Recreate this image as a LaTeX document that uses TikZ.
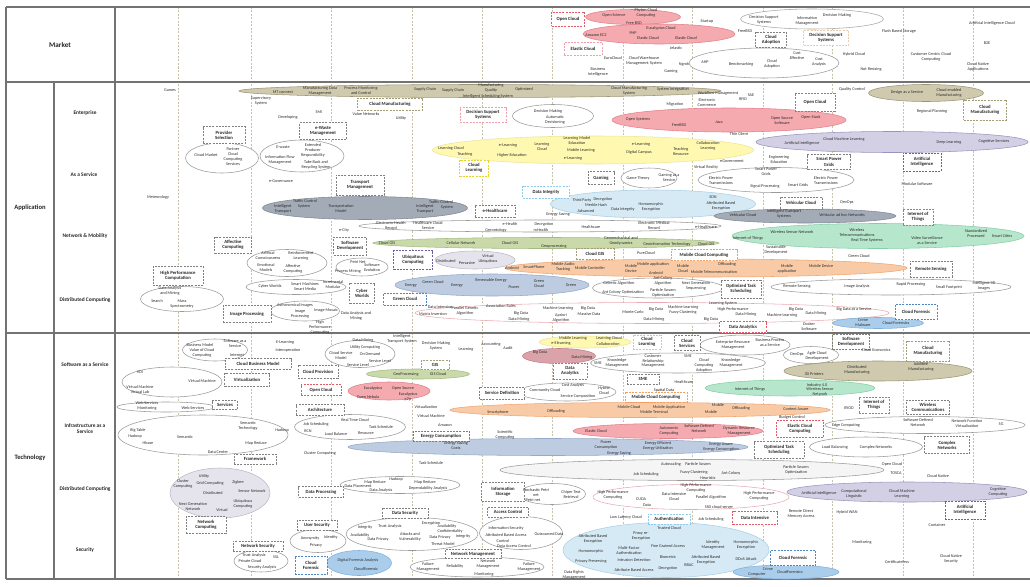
\documentclass[tikz,border=0pt]{standalone}
\usepackage{fontspec}
\setmainfont{Carlito}
\usetikzlibrary{shapes.geometric}
% fills and outlines of the topic clusters
\definecolor{olvF}{HTML}{CFC9AE}\definecolor{olvD}{HTML}{9C9678}
\definecolor{redF}{HTML}{F5AAB0}\definecolor{redD}{HTML}{E2808C}
\definecolor{yelF}{HTML}{FFF8B0}\definecolor{yelD}{HTML}{EDE59A}
\definecolor{purF}{HTML}{D3D0E6}\definecolor{purD}{HTML}{9A94BE}
\definecolor{trF}{HTML}{A3ABB6}\definecolor{trD}{HTML}{7F8894}
\definecolor{lbF}{HTML}{D6EAF5}\definecolor{lbD}{HTML}{A9D0E6}
\definecolor{grnF}{HTML}{B6E6CB}\definecolor{grnD}{HTML}{86CFA6}
\definecolor{oraF}{HTML}{F8CBA6}\definecolor{oraD}{HTML}{EFA676}
\definecolor{engF}{HTML}{BDCCE0}\definecolor{engD}{HTML}{95A9C8}
\definecolor{forF}{HTML}{AACDEB}\definecolor{forD}{HTML}{7FB1DC}
\definecolor{pinkD}{HTML}{E9A9B2}
\definecolor{gryF}{HTML}{E5E3EB}\definecolor{gryD}{HTML}{BDB9C7}
\definecolor{whtD}{HTML}{9A9A9A}
\definecolor{gisF}{HTML}{C9D9A9}\definecolor{gisD}{HTML}{A4BB85}
\definecolor{roseF}{HTML}{D9A3A9}\definecolor{roseD}{HTML}{C08088}
% dashed topic boxes
\definecolor{bGry}{HTML}{808080}\definecolor{bRed}{HTML}{E05A6A}
\definecolor{bPnk}{HTML}{F0A0AA}\definecolor{bOlv}{HTML}{A39C74}
\definecolor{bYel}{HTML}{E5D52A}\definecolor{bBlu}{HTML}{4F86C6}
\definecolor{bPur}{HTML}{6F5FA0}\definecolor{bGrn}{HTML}{3DB56E}
\definecolor{bOra}{HTML}{EFA060}\definecolor{bLb}{HTML}{8FCBEA}
\definecolor{bTan}{HTML}{E8CDA8}\definecolor{grid}{HTML}{C8C2A8}
\newcounter{tc}
\newcommand\tx[3]{\stepcounter{tc}\node[txt] (t\arabic{tc}) at (#1,#2) {#3};}
\newcommand\bx[7]{\node[box,draw=#1,minimum width=#5pt,minimum height=#6pt] (#2) at (#3,#4) {#7};}
\newcommand\ov[5]{\path[#1] (#2,#3) ellipse [x radius={#4*0.5pt}, y radius={#5*0.5pt}];}
\begin{document}
\begin{tikzpicture}[x=1pt,y=-1pt,
  txt/.style={font=\fontsize{4.2}{4.9}\selectfont, align=center, inner sep=0pt, text=black!82},
  box/.style={dash pattern=on 2pt off 1.2pt, line width=0.65pt, fill=white,
    font=\fontsize{4.7}{5.2}\selectfont\bfseries, align=center, inner sep=0.6pt, text=black!85},
  hd/.style={font=\fontsize{7.2}{8}\selectfont\bfseries, text=black!85},
  cat/.style={font=\fontsize{6.6}{7.4}\selectfont\bfseries, text=black!85},
  sub/.style={font=\fontsize{5.4}{6.2}\selectfont\bfseries, align=center, text=black!85},
  ew/.style={fill=white, draw=whtD, line width=0.55pt},
  eolv/.style={fill=olvF, draw=olvD, line width=0.55pt},
  ered/.style={fill=redF, draw=redD, line width=0.55pt},
  eyel/.style={fill=yelF, draw=yelD, line width=0.55pt},
  epur/.style={fill=purF, draw=purD, line width=0.55pt},
  etr/.style={fill=trF, draw=trD, line width=0.55pt},
  elb/.style={fill=lbF, draw=lbD, line width=0.55pt},
  egrn/.style={fill=grnF, draw=grnD, line width=0.55pt},
  eora/.style={fill=oraF, draw=oraD, line width=0.55pt},
  eeng/.style={fill=engF, draw=engD, line width=0.55pt},
  efor/.style={fill=forF, draw=forD, line width=0.55pt},
  epnk/.style={fill=white, draw=pinkD, line width=0.55pt},
  egry/.style={fill=gryF, draw=gryD, line width=0.55pt},
  egis/.style={fill=gisF, draw=gisD, line width=0.55pt},
  erose/.style={fill=roseF, draw=roseD, line width=0.55pt},
  rule/.style={draw=black!55, line width=1.1pt},
  year/.style={draw=grid, line width=0.5pt, dash pattern=on 2pt off 1.5pt}]
\useasboundingbox (0,0) rectangle (1030,586);
\fill[white] (0,0) rectangle (1030,586);

% ---- time columns ----
\foreach \c in {178,251,331,412,482,552,623,692,763,832,903,973}
  \draw[year] (\c,7) -- (\c,579);

% ---- table frame ----
\draw[rule] (6,7) -- (1030,7);
\draw[rule] (6,82) -- (1030,82);
\draw[rule] (6,333) -- (1030,333);
\draw[rule] (6,579) -- (1030,579);
\draw[rule] (6,7) -- (6,579);
\draw[rule] (115,7) -- (115,579);
\draw[rule] (54,82) -- (54,579);

\node[hd] (market) at (60,45) {Market};
\node[cat] (application) at (30,208) {Application};
\node[cat] (technology) at (30,458) {Technology};
\node[sub] (s1) at (85,113) {Enterprise};
\node[sub] (s2) at (84,175) {As a Service};
\node[sub] (s3) at (85,236) {Network \& Mobility};
\node[sub] (s4) at (85,300) {Distributed Computing};
\node[sub] (s5) at (85,365) {Software as a Service};
\node[sub] (s6) at (85,429) {Infrastructure as a\\Service};
\node[sub] (s7) at (85,489) {Distributed Computing};
\node[sub] (s8) at (85,550) {Security};

% ---- clusters ----
\ov{ered}{633}{17}{95}{15}
\ov{ered}{659}{34}{152}{20}
\ov{ew}{764}{63}{150}{30}
\ov{ew,draw=black!35}{812}{19}{143}{20}
\ov{eolv}{480}{91}{482}{13}
\ov{ew}{553}{116}{81}{23}
\ov{ered}{729}{120}{234}{24}
\ov{eolv}{926}{93}{115}{17}
\ov{ew}{222}{158}{73}{30}
\ov{ew}{302}{156}{84}{32}
\ov{eyel}{593}{150}{321}{28}
\ov{epur}{892}{142}{272}{21}
\ov{ew}{649}{178}{56}{20}
\ov{ew}{776}{180}{156}{25}
\ov{etr}{365}{208}{205}{23}
\ov{elb}{653}{204}{205}{28}
\ov{etr}{805}{216}{182}{14}
\ov{ew}{540}{226}{362}{12}
\ov{egrn}{878}{236}{292}{25}
\ov{egis}{546}{243}{346}{11}
\ov{ew}{287}{263}{80}{27}
\ov{ew}{362}{267}{52}{18}
\ov{egry}{475}{260}{80}{18}
\ov{eora}{706}{268}{402}{18}
\ov{ew}{296}{287}{100}{15}
\ov{eeng}{492}{285}{194}{22}
\ov{ew}{658}{288}{131}{20}
\ov{ew}{891}{287}{240}{16}
\ov{ew}{182}{299}{83}{25}
\ov{ew}{305}{311}{69}{20}
\ov{epnk}{652}{313}{474}{21}
\ov{efor}{878}{323}{91}{11}
\ov{ew}{215}{350}{65}{22}
\ov{ew}{360}{354}{70}{27}
\ov{egis}{418}{374}{103}{10}
\ov{eyel}{585}{342}{92}{12}
\ov{ew}{745}{345}{90}{20}
\ov{erose}{559}{356}{73}{15}
\ov{ew}{678}{363}{175}{20}
\ov{ew}{811}{355}{55}{17}
\ov{eolv}{878}{371}{188}{20}
\ov{ew}{172}{382}{100}{30}
\ov{ered}{389}{391}{82}{18}
\ov{ew}{567}{392}{98}{18}
\ov{egrn}{790}{388}{170}{16}
\ov{ew}{166}{407}{98}{10}
\ov{ew}{203}{435}{170}{40}
\ov{ew}{350}{427}{111}{25}
\ov{eeng}{548}{447}{400}{17}
\ov{eora}{640}{410}{380}{15}
\ov{ered}{668}{431}{190}{15}
\ov{ew}{925}{425}{200}{17}
\ov{ew}{866}{447}{113}{20}
\ov{ew,fill=black!4}{692}{470}{384}{21}
\ov{egry}{220}{493}{100}{50}
\ov{ew}{400}{485}{120}{17}
\ov{ew}{552}{494}{67}{21}
\ov{epnk}{691}{497}{196}{25}
\ov{epur}{907}{492}{240}{20}
\ov{ew}{261}{561}{54}{22}
\ov{ew}{318}{541}{56}{23}
\ov{efor}{359}{563}{65}{25}
\ov{ew}{412}{534}{132}{33}
\ov{ew}{477}{567}{134}{20}
\ov{ew}{521}{533}{83}{33}
\ov{elb}{666}{550}{206}{55}
\ov{efor}{786}{572}{106}{14}

% ---- topic boxes ----
\bx{bRed}{b1}{568}{19}{33}{14}{Open Cloud}
\bx{bPnk}{b2}{583}{49}{38}{13}{Elastic Cloud}
\bx{bGry}{b3}{771}{40}{31}{15}{Cloud\\Adoption}
\bx{bTan}{b4}{826}{38}{45}{15}{Decision Support\\Systems}
\bx{bOlv}{b5}{390}{104}{65}{12}{Cloud Manufacturing}
\bx{bGry}{b6}{323}{131}{47}{17}{e-Waste\\Management}
\bx{bGry}{b7}{224}{135}{42}{17}{Provider\\Selection}
\bx{bPnk}{b8}{483}{115}{46}{15}{Decision Support\\Systems}
\bx{bRed}{b9}{815}{102}{40}{18}{Open Cloud}
\bx{bOlv}{b10}{985}{110}{43}{20}{Cloud\\Manufacturing}
\bx{bGry}{b11}{360}{185}{48}{20}{Transport\\Management}
\bx{bYel}{b12}{474}{168}{29}{16}{Cloud\\Learning}
\bx{bGry}{b13}{601}{178}{26}{13}{Gaming}
\bx{bGry}{b14}{829}{162}{43}{15}{Smart Power\\Grids}
\bx{bPur}{b15}{922}{162}{38}{18}{Artificial\\Intelligence}
\bx{bLb}{b16}{546}{192}{47}{12}{Data Integrity}
\bx{bGry}{b17}{495}{211}{40}{12}{e-Healthcare}
\bx{bGry}{b18}{801}{203}{42}{12}{Vehicular Cloud}
\bx{bGrn}{b19}{918}{217}{30}{16}{Internet of\\Things}
\bx{bGry}{b20}{350}{246}{33}{18}{Software\\Development}
\bx{bGry}{b21}{233}{245}{37}{16}{Affective\\Computing}
\bx{bPur}{b22}{413}{260}{39}{19}{Ubiquitous\\Computing}
\bx{bOlv}{b23}{595}{254}{38}{11}{Cloud GIS}
\bx{bOra}{b24}{704}{255}{66}{11}{Mobile Cloud Computing}
\bx{bGry}{b25}{931}{269}{42}{16}{Remote Sensing}
\bx{bGry}{b26}{362}{293}{25}{20}{Cyber\\Worlds}
\bx{bBlu}{b27}{405}{299}{43}{12}{Green Cloud}
\bx{bGry}{b28}{741}{289}{40}{18}{Optimized Task\\Scheduling}
\bx{bGry}{b29}{178}{276}{50}{19}{High Performance\\Computation}
\bx{bGry}{b30}{247}{314}{48}{17}{Image Processing}
\bx{bRed}{b31}{743}{327}{47}{11}{Data Analytics}
\bx{bBlu}{b32}{916}{312}{42}{15}{Cloud Forensic}
\bx{bGry}{b33}{258}{364}{66}{11}{Cloud Business Model}
\bx{bGry}{b34}{318}{372}{40}{13}{Cloud Provision}
\bx{bOlv}{b35}{435}{365}{28}{9}{GIS}
\bx{bYel}{b36}{647}{342}{28}{14}{Cloud\\Learning}
\bx{bGry}{b37}{687}{343}{26}{15}{Cloud\\Services}
\bx{bRed}{b38}{570}{371}{34}{16}{Data\\Analytics}
\bx{bGry}{b39}{643}{379}{32}{10}{SME}
\bx{bGry}{b40}{851}{342}{37}{15}{Software\\Development}
\bx{bOlv}{b41}{928}{351}{43}{20}{Cloud\\Manufacturing}
\bx{bGry}{b42}{247}{380}{45}{13}{Virtualization}
\bx{bRed}{b43}{321}{390}{40}{11}{Open Cloud}
\bx{bGry}{b44}{502}{393}{45}{12}{Service Definition}
\bx{bOra}{b45}{656}{397}{62}{10}{Mobile Cloud Computing}
\bx{bGry}{b46}{225}{405}{25}{9}{Services}
\bx{bGry}{b47}{255}{459}{42}{10}{Framework}
\bx{bGry}{b48}{320}{410}{48}{11}{Architecture}
\bx{bBlu}{b49}{441}{436}{56}{10}{Energy Consumption}
\bx{bGrn}{b50}{874}{405}{30}{16}{Internet of\\Things}
\bx{bGry}{b51}{928}{407}{43}{14}{Wireless\\Communications}
\bx{bRed}{b52}{800}{429}{47}{17}{Elastic Cloud\\Computing}
\bx{bGry}{b53}{779}{450}{50}{17}{Optimized Task\\Scheduling}
\bx{bGry}{b54}{947}{445}{45}{17}{Complex\\Networks}
\bx{bGry}{b55}{206}{525}{40}{17}{Network\\Computing}
\bx{bGry}{b56}{321}{492}{45}{11}{Data Processing}
\bx{bGry}{b57}{503}{492}{43}{19}{Information\\Storage}
\bx{bPur}{b58}{965}{510}{40}{18}{Artificial\\Intelligence}
\bx{bGry}{b59}{258}{546}{50}{10}{Network Security}
\bx{bGry}{b60}{317}{525}{40}{10}{User Security}
\bx{bBlu}{b61}{311}{565}{32}{18}{Cloud\\Forensic}
\bx{bGry}{b62}{405}{513}{46}{10}{Data Security}
\bx{bGry}{b63}{473}{554}{56}{9}{Network Management}
\bx{bGry}{b64}{508}{512}{41}{10}{Access Control}
\bx{bLb}{b65}{669}{519}{42}{10}{Authentication}
\bx{bRed}{b66}{755}{518}{45}{13}{Data Intensive}
\bx{bBlu}{b67}{793}{558}{45}{15}{Cloud Forensic}

% ---- Market ----
\tx{614}{15}{Open Science}
\tx{646}{13}{Phyton Cloud\\Computing}
\tx{634}{23}{Free BSD}
\tx{596}{35}{Amazon EC2}
\tx{633}{33}{PHP}
\tx{661}{28}{Eucalyptus Cloud}
\tx{648}{38}{Elastic Cloud}
\tx{686}{38}{Elastic Cloud}
\tx{707}{21}{Startup}
\tx{745}{31}{FreeBSD}
\tx{676}{48}{Jelastic}
\tx{613}{58}{EuroCloud}
\tx{644}{61}{Cloud Warehouse\\Management System}
\tx{598}{72}{Business\\Intelligence}
\tx{671}{71}{Gaming}
\tx{684}{64}{Ngrok}
\tx{705}{62}{AHP}
\tx{741}{64}{Benchmarking}
\tx{772}{64}{Cloud\\Adoption}
\tx{797}{56}{Cost\\Effective}
\tx{819}{62}{Cost\\Analysis}
\tx{764}{20}{Decision Support\\Systems}
\tx{807}{21}{Information\\Management}
\tx{837}{15}{Decision Making}
\tx{899}{31}{Flash Based Storage}
\tx{854}{54}{Hybrid Cloud}
\tx{871}{69}{Not Resizing}
\tx{931}{57}{Customer Centric Cloud\\Computing}
\tx{992}{23}{Artificial Intelligence Cloud}
\tx{987}{43}{B2E}
\tx{978}{67}{Cloud Native\\Applications}

% ---- Enterprise ----
\tx{170}{90}{Games}
\tx{283}{92}{MT connect}
\tx{320}{91}{Manufacturing Data\\Management}
\tx{361}{91}{Process Monitoring\\and Control}
\tx{425}{89}{Supply Chain}
\tx{453}{90}{Supply Chain}
\tx{491}{88}{Manufacturing\\Quality}
\tx{488}{96}{Intelligent Scheduling System}
\tx{524}{89}{Optimized}
\tx{629}{91}{Cloud Manufacturing\\System}
\tx{673}{89}{System Integration}
\tx{718}{93}{Workflow Management}
\tx{261}{101}{Supervisory\\System}
\tx{288}{117}{Developing}
\tx{319}{112}{SMI}
\tx{366}{114}{Value Networks}
\tx{401}{118}{Utility}
\tx{548}{111}{Decision Making}
\tx{555}{120}{Automatic\\Decisioning}
\tx{675}{104}{Migration}
\tx{707}{103}{Electronic\\Commerce}
\tx{743}{99}{RFID}
\tx{751}{95}{SAE}
\tx{638}{119}{Open Systems}
\tx{679}{125}{FreeBSD}
\tx{719}{122}{Java}
\tx{782}{121}{Open Source\\Software}
\tx{811}{117}{Open Stack}
\tx{852}{89}{Quality Control}
\tx{907}{92}{Design as a Service}
\tx{949}{93}{Cloud enabled\\Manufacturing}
\tx{932}{111}{Regional Planning}

% ---- As a Service ----
\tx{206}{155}{Cloud Market}
\tx{233}{157}{Partner\\Cloud\\Computing\\Services}
\tx{283}{147}{E-waste}
\tx{313}{150}{Extended\\Producer\\Responsibility}
\tx{280}{160}{Information Flow\\Management}
\tx{316}{165}{Take Back and\\Recycling System}
\tx{281}{181}{e-Governance}
\tx{158}{197}{Meteorology}
\tx{451}{148}{Learning Cloud}
\tx{465}{154}{Teaching}
\tx{508}{145}{e-Learning}
\tx{512}{155}{Higher Education}
\tx{542}{147}{Learning\\Cloud}
\tx{577}{141}{Learning Model\\Education}
\tx{581}{150}{Mobile Learning}
\tx{573}{158}{e-Learning}
\tx{641}{144}{e-Learning}
\tx{639}{152}{Digital Campus}
\tx{681}{152}{Teaching\\Resource}
\tx{708}{146}{Collaboration\\Learning}
\tx{739}{134}{Thin Client}
\tx{732}{161}{eGovernment}
\tx{706}{167}{Virtual Reality}
\tx{802}{143}{Artificial Intelligence}
\tx{844}{139}{Cloud Machine Learning}
\tx{949}{142}{Deep Learning}
\tx{994}{141}{Cognitive Services}
\tx{638}{178}{Game Theory}
\tx{669}{178}{Gaming as a\\Service}
\tx{721}{181}{Electric Power\\Transmissions}
\tx{766}{172}{Smart Power\\Grids}
\tx{765}{186}{Signal Processing}
\tx{798}{185}{Smart Grids}
\tx{826}{181}{Electric Power\\Transmissions}
\tx{779}{160}{Engineering\\Education}
\tx{917}{184}{Modular Software}

% ---- Network & Mobility ----
\tx{305}{201}{Traffic Control}
\tx{283}{209}{Intelligent\\Transport}
\tx{304}{206}{System}
\tx{341}{209}{Transportation\\Model}
\tx{441}{202}{Traffic Control}
\tx{425}{209}{Intelligent\\Transport}
\tx{447}{207}{System}
\tx{582}{200}{Third Party}
\tx{603}{199}{Decryption}
\tx{596}{205}{Merkle Hash}
\tx{586}{211}{Advanced}
\tx{623}{209}{Data Integrity}
\tx{651}{207}{Homomorphic\\Encryption}
\tx{713}{197}{SDN}
\tx{721}{206}{Attributed Based\\Encryption}
\tx{558}{214}{Energy Saving}
\tx{743}{215}{Vehicular Cloud}
\tx{784}{214}{Intelligent Transport\\Systems}
\tx{842}{215}{Vehicular ad hoc Networks}
\tx{847}{202}{DevOps}
\tx{391}{226}{Electronic Health\\Record}
\tx{428}{226}{Healthcare Cloud\\Service}
\tx{344}{230}{e-City}
\tx{496}{230}{Gerontology}
\tx{510}{224}{e-Health}
\tx{544}{224}{Decryption}
\tx{541}{230}{mHealth}
\tx{591}{227}{Healthcare}
\tx{654}{226}{Electronic Medical\\Record}
\tx{706}{227}{e-Healthcare}
\tx{792}{232}{Wireless Sensor Network}
\tx{748}{238}{Internet of Things}
\tx{857}{233}{Wireless\\Telecommunications}
\tx{867}{240}{Real Time Systems}
\tx{927}{241}{Video Surveillance\\as a Service}
\tx{976}{234}{Standardized\\Processed}
\tx{1002}{236}{Smart Cities}
\tx{776}{250}{Sustainable\\Development}
\tx{387}{243}{Cloud GIS}
\tx{461}{243}{Cellular Network}
\tx{510}{243}{Cloud GIS}
\tx{554}{246}{Geoprocessing}
\tx{621}{241}{Geomechanical and\\Geodynamics}
\tx{667}{244}{Geoinformation Technology}
\tx{706}{244}{Cloud GIS}
\tx{268}{256}{Artifical\\Consciousness}
\tx{301}{256}{Reinforcement\\Learning}
\tx{266}{268}{Emotional\\Models}
\tx{293}{269}{Affective\\Computing}
\tx{358}{262}{Petri Net}
\tx{372}{268}{Software\\Evolution}
\tx{348}{271}{Process Mining}
\tx{446}{261}{Distributed}
\tx{467}{263}{Pervasive}
\tx{488}{259}{Virtual\\Ubiquitous}
\tx{646}{253}{PureCloud}
\tx{512}{268}{Android}
\tx{534}{267}{SmartPhone}
\tx{563}{267}{Mobile Audio\\Tracking}
\tx{590}{268}{Mobile Controller}
\tx{631}{269}{Mobile\\Device}
\tx{653}{264}{Mobile application}
\tx{656}{273}{Android}
\tx{683}{269}{Mobile\\Cloud}
\tx{727}{264}{Offloading}
\tx{714}{272}{Mobile Telecommunication}
\tx{787}{269}{Mobile\\application}
\tx{821}{266}{Mobile Device}
\tx{859}{256}{Green Cloud}

% ---- Distributed Computing (application) ----
\tx{270}{286}{Cyber Worlds}
\tx{305}{287}{Smart Machines\\Smart Media}
\tx{333}{285}{Incremental\\Modular}
\tx{411}{286}{Energy}
\tx{433}{282}{Green Cloud}
\tx{457}{286}{Energy}
\tx{491}{280}{Renewable Energy}
\tx{514}{287}{Power}
\tx{539}{284}{Green\\Cloud}
\tx{571}{285}{Green}
\tx{619}{283}{Genetic Algorithm}
\tx{663}{281}{Ant Colony\\Algorithm}
\tx{696}{286}{Next Generation\\Sequencing}
\tx{623}{292}{Ant Colony Optimization}
\tx{663}{293}{Particle Swarm\\Optimization}
\tx{797}{286}{Remote Sensing}
\tx{857}{286}{Image Analysis}
\tx{911}{284}{Rapid Processing}
\tx{949}{287}{Small Footprint}
\tx{984}{286}{Intelligent 3D\\Images}
\tx{170}{291}{Data Analysis\\and Mining}
\tx{157}{301}{Search}
\tx{182}{304}{Mass\\Spectrometry}
\tx{295}{305}{Astronomical Images}
\tx{300}{314}{Image\\Processing}
\tx{326}{310}{Image Mosaic}
\tx{356}{316}{Data Analysis and\\Mining}
\tx{320}{327}{High\\Performance\\Computing}
\tx{440}{307}{Data Intensive}
\tx{465}{311}{Parallel Genetic\\Algorithm}
\tx{433}{314}{Matrix Inversion}
\tx{501}{306}{Association Rules}
\tx{521}{313}{Big Data}
\tx{519}{319}{Data Mining}
\tx{558}{308}{Machine Learning}
\tx{561}{318}{Apriori\\Algorithm}
\tx{588}{308}{Big Data}
\tx{589}{314}{Massive Data}
\tx{633}{312}{Monte Carlo}
\tx{656}{309}{Big Data}
\tx{683}{307}{Machine Learning}
\tx{683}{312}{Fuzzy Clustering}
\tx{654}{319}{Data Mining}
\tx{711}{319}{Big Data}
\tx{723}{303}{Learning System}
\tx{733}{309}{High Performance}
\tx{746}{314}{Data Mining}
\tx{796}{309}{Big Data}
\tx{782}{315}{Machine Learning}
\tx{816}{313}{Data Mining}
\tx{854}{309}{Big Data as a Service}
\tx{809}{327}{Docker\\Software}
\tx{863}{323}{Crime\\Malware}
\tx{896}{323}{Cloud Forensics}

% ---- Software as a Service ----
\tx{200}{345}{Business Model}
\tx{202}{353}{Value of Cloud\\Computing}
\tx{235}{344}{Software as a\\Service}
\tx{237}{355}{Internet}
\tx{285}{342}{E-Learning}
\tx{288}{350}{Interoperation}
\tx{363}{340}{Data Mining}
\tx{365}{347}{Utility Computing}
\tx{341}{356}{Cloud Service\\Model}
\tx{370}{354}{On Demand}
\tx{380}{361}{Service Level}
\tx{358}{365}{Service Level}
\tx{402}{339}{Intelligent\\Transport System}
\tx{436}{346}{Decision Making\\System}
\tx{466}{349}{Learning}
\tx{491}{344}{Accounting}
\tx{508}{348}{Audit}
\tx{406}{374}{GeoProcessing}
\tx{438}{374}{GIS Cloud}
\tx{573}{338}{Mobile Learning}
\tx{609}{338}{Learning Cloud}
\tx{561}{343}{e-Elearning}
\tx{608}{344}{Collaboration}
\tx{733}{345}{Enterprise Resource\\Management}
\tx{770}{343}{Business Process\\as a Service}
\tx{540}{352}{Big Data}
\tx{582}{357}{Data Mining}
\tx{598}{363}{SME}
\tx{617}{363}{Knowledge\\Management}
\tx{653}{361}{Customer\\Relationship\\Management}
\tx{688}{356}{SME}
\tx{704}{365}{Cloud\\Computing\\Adoption}
\tx{731}{363}{Knowledge\\Management}
\tx{684}{382}{Healthcare}
\tx{664}{390}{Spatial Data}
\tx{876}{350}{Cloud Economics}
\tx{797}{354}{DevOps}
\tx{817}{356}{Agile Cloud\\Development}
\tx{814}{374}{3D Printers}
\tx{857}{370}{Distributed\\Manufacturing}
\tx{921}{367}{Additive\\Manufacturing}
\tx{140}{372}{VDI}
\tx{202}{381}{Virtual Machine}
\tx{140}{390}{Virtual Machine\\Virtual Lab}
\tx{373}{388}{Eucalyptus}
\tx{403}{388}{Open Source}
\tx{368}{397}{Open Nebula}
\tx{408}{397}{Eucalyptus\\p2p}
\tx{573}{385}{Cost Analysis}
\tx{545}{390}{Community Cloud}
\tx{604}{391}{Hybrid\\Cloud}
\tx{578}{396}{Service Composition}
\tx{750}{389}{Internet of Things}
\tx{817}{385}{Industry 4.0}
\tx{820}{392}{Wireless Sensor\\Network}

% ---- Infrastructure as a Service ----
\tx{147}{406}{Web Services\\Monitoring}
\tx{193}{408}{Web Services}
\tx{138}{430}{Big Table}
\tx{135}{436}{Hadoop}
\tx{148}{443}{Hbase}
\tx{185}{437}{Semantic}
\tx{248}{426}{Semantic\\Technology}
\tx{256}{443}{Map Reduce}
\tx{282}{430}{Hadoop}
\tx{218}{452}{Data Center}
\tx{316}{424}{Job Scheduling}
\tx{308}{431}{RCN}
\tx{355}{420}{Real Time Cloud}
\tx{381}{427}{Task Schedule}
\tx{336}{434}{Load Balance}
\tx{366}{433}{Resource}
\tx{426}{407}{Virtualization}
\tx{431}{416}{Virtual Machine}
\tx{445}{425}{Amazon}
\tx{320}{453}{Cluster Computing}
\tx{456}{446}{Energy Saving\\Costs}
\tx{606}{445}{Power\\Consumption}
\tx{619}{453}{Energy Saving}
\tx{658}{446}{Energy Efficient\\Energy Utilization}
\tx{721}{447}{Energy Aware\\Energy Consumption}
\tx{498}{412}{Smartphone}
\tx{556}{411}{Offloading}
\tx{629}{407}{Mobile Cloud}
\tx{669}{407}{Mobile Application}
\tx{654}{412}{Mobile Terminal}
\tx{718}{405}{Mobile}
\tx{711}{412}{Mobile}
\tx{741}{408}{Offloading}
\tx{796}{409}{Context Aware}
\tx{505}{435}{Scientific\\Computing}
\tx{596}{431}{Elastic Cloud}
\tx{669}{431}{Autonomic\\Computing}
\tx{699}{429}{Software Defined\\Network}
\tx{739}{431}{Dynamic Resource\\Management}
\tx{849}{408}{BYOD}
\tx{792}{417}{Budget Control}
\tx{846}{425}{Edge Computing}
\tx{918}{423}{Software Defined\\Network}
\tx{967}{424}{Network Function\\Virtualization}
\tx{1001}{424}{5G}
\tx{835}{447}{Load Balancing}
\tx{876}{447}{Complex Networks}
\tx{431}{463}{Task Schedule}
\tx{671}{464}{Autoscaling}
\tx{698}{464}{Particle Swarm}
\tx{646}{474}{Job Scheduling}
\tx{694}{472}{Fuzzy Clustering}
\tx{708}{478}{Heuristic}
\tx{731}{473}{Ant Colony}
\tx{796}{470}{Particle Swarm\\Optimization}
\tx{892}{464}{Open Cloud}
\tx{896}{473}{TOSCA}
\tx{938}{476}{Cloud Native}

% ---- Distributed Computing (technology) ----
\tx{204}{476}{Utility}
\tx{210}{483}{Grid Computing}
\tx{183}{484}{Cluster\\Computing}
\tx{238}{482}{Zigbee}
\tx{252}{491}{Sensor Network}
\tx{213}{493}{Distributed}
\tx{193}{507}{Next Generation\\Network}
\tx{222}{510}{Virtual}
\tx{243}{504}{Ubiquitous\\Computing}
\tx{358}{486}{Data Placement}
\tx{375}{482}{Map Reduce}
\tx{396}{479}{Hadoop}
\tx{381}{490}{Data Analysis}
\tx{425}{482}{Map Reduce}
\tx{428}{488}{Dependability Analysis}
\tx{536}{493}{Stochastic Petri\\net}
\tx{533}{500}{Petri net}
\tx{571}{495}{Chiper Text\\Retrieval}
\tx{613}{495}{High Performance\\Computing}
\tx{641}{499}{CUDA}
\tx{647}{505}{Data}
\tx{674}{497}{Data Intensive\\Cloud}
\tx{696}{488}{High Performance\\Computing}
\tx{711}{497}{Parallel Algorithm}
\tx{719}{507}{SSD cloud server}
\tx{759}{496}{High Performance\\Computing}
\tx{819}{493}{Artificial Intelligence}
\tx{854}{494}{Computational\\Linguistic}
\tx{902}{494}{Cloud Machine\\Learning}
\tx{998}{492}{Cognitive\\Computing}
\tx{801}{514}{Remote Direct\\Memory Access}
\tx{847}{512}{Hybrid WAN}
\tx{937}{525}{Container}

% ---- Security ----
\tx{254}{555}{Trust Analysis}
\tx{276}{557}{SSL}
\tx{250}{561}{Private Cloud}
\tx{262}{567}{Security Analysis}
\tx{310}{538}{Anonymity}
\tx{331}{537}{Identity}
\tx{316}{545}{Privacy}
\tx{358}{560}{Digital Forensic Analysis}
\tx{366}{569}{CloudForensic}
\tx{365}{527}{Integrity}
\tx{390}{526}{Trust Analysis}
\tx{431}{523}{Encryption}
\tx{447}{526}{Availability}
\tx{360}{535}{Availability}
\tx{450}{531}{Confidentiality}
\tx{378}{539}{Data Privacy}
\tx{410}{537}{Attacks and\\Vulnerability}
\tx{440}{537}{Data Privacy}
\tx{463}{536}{Integrity}
\tx{443}{544}{Threat Model}
\tx{428}{567}{Failure\\Management}
\tx{455}{566}{Reliability}
\tx{488}{564}{Network\\Management}
\tx{484}{574}{Monitoring}
\tx{529}{567}{Failure\\Management}
\tx{506}{528}{Information Security}
\tx{506}{535}{Attributed Based Access}
\tx{503}{541}{Control}
\tx{514}{546}{Data Access Control}
\tx{549}{534}{Outsourced Data}
\tx{574}{575}{Data Rights\\Management}
\tx{626}{517}{Low Latency Cloud}
\tx{711}{519}{Job Scheduling}
\tx{669}{528}{Trusted Cloud}
\tx{593}{539}{Attributed Based\\Encryption}
\tx{641}{536}{Proxy re-\\Encryption}
\tx{668}{546}{Fine Grained Access}
\tx{713}{545}{Identity\\Management}
\tx{746}{545}{Homomorphic\\Encryption}
\tx{591}{551}{Homomorphic}
\tx{629}{551}{Multi-Factor\\Authentication}
\tx{591}{561}{Privacy Preserving}
\tx{634}{560}{Intrusion Detection}
\tx{668}{557}{Biometric}
\tx{706}{560}{Attributed Based\\Encryption}
\tx{746}{559}{DDoS Attack}
\tx{689}{565}{RBAC}
\tx{634}{570}{Attribute Based Access}
\tx{668}{568}{Decryption}
\tx{768}{569}{Crime}
\tx{757}{574}{Computer}
\tx{790}{572}{CloudForensics}
\tx{862}{542}{Monitoring}
\tx{897}{562}{Certificateless}
\tx{951}{559}{Cloud Native\\Security}
\end{tikzpicture}
\end{document}
